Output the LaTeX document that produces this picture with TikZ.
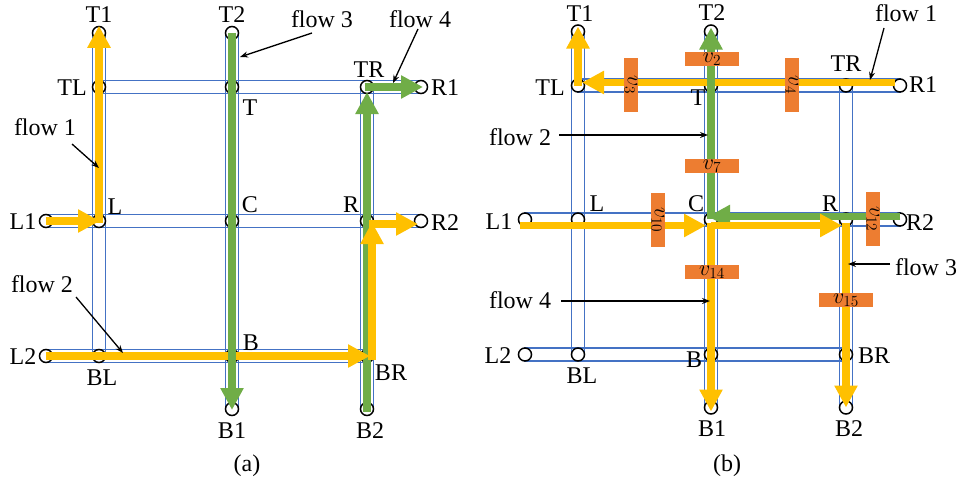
\RequirePackage{fix-cm}
\documentclass[tikz,border=0pt]{standalone}
\usepackage{fontspec}
\setmainfont{Liberation Serif}
\usetikzlibrary{arrows.meta,calc}
\definecolor{roadblue}{HTML}{4472C4}
\definecolor{flowyellow}{HTML}{FFC000}
\definecolor{flowgreen}{HTML}{70AD47}
\definecolor{vorange}{HTML}{ED7D31}
\pgfdeclarelayer{bg}
\pgfsetlayers{bg,main}
\newcommand\gridnet[3]{%
  \begin{scope}[shift={(#2,#3)}]
    \node[junction] (#1T1) at (99,33) {};
    \node[junction] (#1T2) at (232,33) {};
    \node[junction] (#1TL) at (99,87) {};
    \node[junction] (#1T)  at (232,87) {};
    \node[junction] (#1TR) at (367,87) {};
    \node[junction] (#1R1) at (421,87) {};
    \node[junction] (#1L1) at (46,221) {};
    \node[junction] (#1L)  at (99,221) {};
    \node[junction] (#1C)  at (232,221) {};
    \node[junction] (#1R)  at (367,221) {};
    \node[junction] (#1R2) at (421,221) {};
    \node[junction] (#1L2) at (46,356) {};
    \node[junction] (#1BL) at (99,356) {};
    \node[junction] (#1B)  at (232,356) {};
    \node[junction] (#1BR) at (367,356) {};
    \node[junction] (#1B1) at (232,409) {};
    \node[junction] (#1B2) at (367,409) {};
  \end{scope}
  \begin{pgfonlayer}{bg}
    \draw[roadline] ($(#1T1)+(-6.5,0)$) rectangle ($(#1BL)+(6.5,0)$);
    \draw[roadline] ($(#1T2)+(-6.5,0)$) rectangle ($(#1B1)+(6.5,0)$);
    \draw[roadline] ($(#1TR)+(-6.5,0)$) rectangle ($(#1B2)+(6.5,0)$);
    \draw[roadline] ($(#1TL)+(0,-6.5)$) rectangle ($(#1R1)+(0,6.5)$);
    \draw[roadline] ($(#1L1)+(0,-6.5)$) rectangle ($(#1R2)+(0,6.5)$);
    \draw[roadline] ($(#1L2)+(0,-6.5)$) rectangle ($(#1BR)+(0,6.5)$);
  \end{pgfonlayer}}
\begin{document}
\begin{tikzpicture}[x=1pt,y=-1pt,
  junction/.style={circle,draw=black,line width=1.5pt,fill=white,minimum size=13pt,inner sep=0pt},
  roadline/.style={draw=roadblue,line width=1.4pt},
  lab/.style={font=\fontsize{24}{24}\selectfont,inner sep=0pt},
  yflow/.style={draw=flowyellow,line width=7.5pt,-{Triangle[length=22pt,width=22pt]}},
  gflow/.style={draw=flowgreen,line width=7.5pt,-{Triangle[length=22pt,width=22pt]}},
  leader/.style={draw=black,line width=1.3pt,-{Stealth[length=8pt,width=6pt]}},
  vbox/.style={fill=vorange,minimum width=54pt,minimum height=14pt,inner sep=0pt,outer sep=0pt},
  vtext/.style={font=\fontsize{22}{22}\selectfont,inner sep=0pt}]
\useasboundingbox (0,0) rectangle (961,485);
\begin{pgfonlayer}{bg}
\fill[white] (0,0) rectangle (961,485);
\end{pgfonlayer}

\gridnet{a}{0}{0}
\gridnet{b}{479}{-1.5}

% ---------- panel (a) flows ----------
\draw[gflow] ($(aB2)+(0,3)$) -- ($(aTR)+(0,5)$);
\draw[gflow] ($(aTR)+(-2,0)$) -- ($(aR1)+(2,0)$);
\draw[yflow] (aL2.center) -- ($(aBR)+(3,0)$);
\draw[gflow] (aT2.center) -- ($(aB1)+(0,1)$);
\draw[yflow] ($(aBR)+(5,3.5)$) -- ($(aR)+(5,1)$);
\draw[yflow] ($(aR)+(2,3)$) -- ($(aR2)+(-3,3)$);
\draw[yflow] ($(aL)+(0,2)$) -- (aT1.north);
\draw[yflow] (aL1.center) -- ($(aL)+(1,0)$);

% ---------- panel (b) flows ----------
\draw[yflow] ($(bTL)+(0,0)$) -- ($(bT1)+(0,-5)$);
\draw[yflow] ($(bR1)+(-5,-3)$) -- ($(bTL)+(4,-3)$);
\draw[gflow] ($(bC)+(0,-1)$) -- ($(bT2)+(0,-4)$);
\draw[gflow] ($(bR2)+(0,-3)$) -- ($(bC)+(-3,-3)$);
\draw[yflow] ($(bC)+(0,3)$) -- ($(bB1)+(0,4)$);
\draw[yflow] ($(bR)+(0,3)$) -- (bB2.center);
\draw[yflow] ($(bL1)+(-5,6)$) -- ($(bC)+(-5,6)$);
\draw[yflow] ($(bC)+(0,6)$) -- ($(bR)+(-4,6)$);

% ---------- orange boxes ----------
\node[vbox] (v2) at (712,59) {};
\node[vtext] (v2t) at (v2) {$v_2$};
\node[vbox,rotate=-90] (v3) at (631,85) {};
\node[vtext,rotate=-90] (v3t) at (v3) {$v_3$};
\node[vbox,rotate=-90] (v4) at (792,85) {};
\node[vtext,rotate=-90] (v4t) at (v4) {$v_4$};
\node[vbox] (v7) at (712,166) {};
\node[vtext] (v7t) at (v7) {$v_7$};
\node[vbox,rotate=-90] (v10) at (658,220) {};
\node[vtext,rotate=-90] (v10t) at (v10) {$v_{10}$};
\node[vbox,rotate=-90] (v12) at (873,219) {};
\node[vtext,rotate=-90] (v12t) at (v12) {$v_{12}$};
\node[vbox] (v14) at (712,272) {};
\node[vtext] (v14t) at (v14) {$v_{14}$};
\node[vbox] (v15) at (846,300) {};
\node[vtext] (v15t) at (v15) {$v_{15}$};

% ---------- labels (a) ----------
\node[lab] (laT1) at (99,15) {T1};
\node[lab] (laT2) at (232,15) {T2};
\node[lab] (laTL) at (72,88) {TL};
\node[lab] (laT) at (250,108) {T};
\node[lab] (laTR) at (369,70) {TR};
\node[lab] (laR1) at (445,88) {R1};
\node[lab] (laL) at (115,207) {L};
\node[lab] (laL1) at (23,222) {L1};
\node[lab] (laC) at (250,205) {C};
\node[lab] (laR) at (351,205) {R};
\node[lab] (laR2) at (445,223) {R2};
\node[lab] (laL2) at (23,357) {L2};
\node[lab] (laBL) at (102,378) {BL};
\node[lab] (laB) at (251,343) {B};
\node[lab] (laBR) at (391,373) {BR};
\node[lab] (laB1) at (232,431) {B1};
\node[lab] (laB2) at (370,431) {B2};
\node[lab] (capa) at (247,466) {(a)};
\node[lab] (fa1) at (45,127) {flow 1};
\node[lab] (fa2) at (42,284) {flow 2};
\node[lab] (fa3) at (322,19) {flow 3};
\node[lab] (fa4) at (420,19) {flow 4};
\coordinate (fa1s) at (72,144); \coordinate (fa1e) at (99,168);
\coordinate (fa2s) at (76,297); \coordinate (fa2e) at (123,353);
\coordinate (fa3s) at (312,33); \coordinate (fa3e) at (240,57);
\coordinate (fa4s) at (418,29); \coordinate (fa4e) at (393,83);
\draw[leader] (fa1s) -- (fa1e);
\draw[leader] (fa2s) -- (fa2e);
\draw[leader] (fa3s) -- (fa3e);
\draw[leader] (fa4s) -- (fa4e);

% ---------- labels (b) ----------
\node[lab] (lbT1) at (580,14) {T1};
\node[lab] (lbT2) at (712,13) {T2};
\node[lab] (lbTL) at (550,88) {TL};
\node[lab] (lbT) at (698,98) {T};
\node[lab] (lbTR) at (846,64) {TR};
\node[lab] (lbR1) at (923,85) {R1};
\node[lab] (lbL) at (597,204) {L};
\node[lab] (lbL1) at (499,222) {L1};
\node[lab] (lbC) at (696,204) {C};
\node[lab] (lbR) at (830,204) {R};
\node[lab] (lbR2) at (920,223) {R2};
\node[lab] (lbL2) at (498,356) {L2};
\node[lab] (lbBL) at (582,376) {BL};
\node[lab] (lbB) at (694,360) {B};
\node[lab] (lbBR) at (874,356) {BR};
\node[lab] (lbB1) at (712,429) {B1};
\node[lab] (lbB2) at (849,429) {B2};
\node[lab] (capb) at (727,466) {(b)};
\node[lab] (fb1) at (906,13) {flow 1};
\node[lab] (fb2) at (520,137) {flow 2};
\node[lab] (fb3) at (926,267) {flow 3};
\node[lab] (fb4) at (520,300) {flow 4};
\coordinate (fb1s) at (884,28); \coordinate (fb1e) at (870,80);
\coordinate (fb2s) at (559,135); \coordinate (fb2e) at (708,135);
\coordinate (fb3s) at (890,264); \coordinate (fb3e) at (848,264);
\coordinate (fb4s) at (561,301); \coordinate (fb4e) at (710,301);
\draw[leader] (fb1s) -- (fb1e);
\draw[leader] (fb2s) -- (fb2e);
\draw[leader] (fb3s) -- (fb3e);
\draw[leader] (fb4s) -- (fb4e);
\end{tikzpicture}
\end{document}
